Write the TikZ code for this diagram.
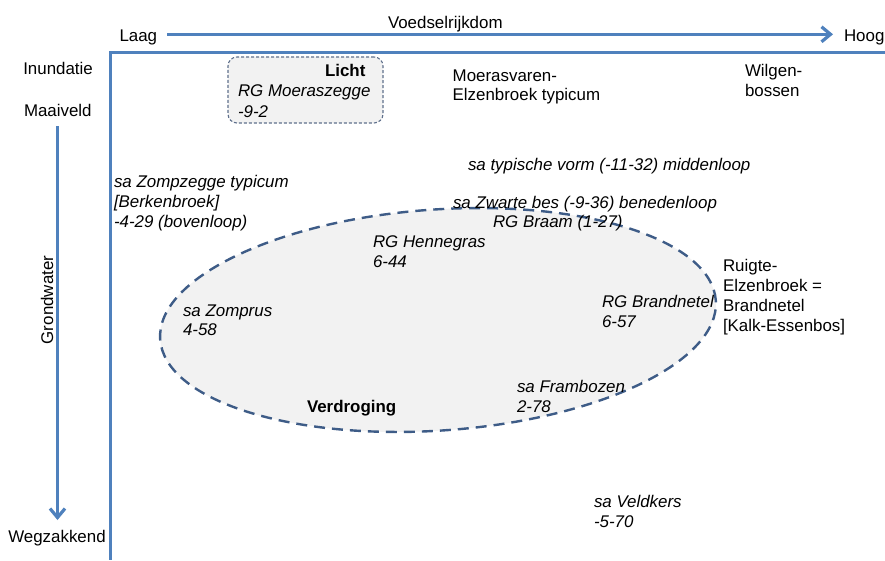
\documentclass[tikz,border=0pt]{standalone}
\usepackage{fontspec}
\setmainfont{Liberation Sans}
\usetikzlibrary{arrows.meta,shapes.geometric}
\definecolor{axisblue}{RGB}{79,129,189}
\definecolor{ovaledge}{RGB}{62,92,135}
\definecolor{boxedge}{RGB}{95,112,140}
\definecolor{ovalfill}{RGB}{242,242,242}
\begin{document}
\begin{tikzpicture}[x=1pt,y=1pt,
  lbl/.style={anchor=north west, inner sep=0pt, outer sep=0pt, align=left, font=\fontsize{16.9}{20}\selectfont},
  ilbl/.style={lbl, font=\fontsize{16.9}{20}\selectfont\itshape},
  blbl/.style={lbl, font=\fontsize{16.9}{20}\selectfont\bfseries},
  axisline/.style={draw=axisblue, line width=3.2pt},
  axisarrow/.style={axisline, -{Straight Barb[length=9pt,width=15pt]}},
]
\useasboundingbox (0,0) rectangle (885,-560);

% axes frame
\coordinate (frameright) at (885,-52.3);
\coordinate (framecorner) at (110.5,-52.3);
\coordinate (framebottom) at (110.5,-560);
\draw[axisline, line join=miter] (frameright) -- (framecorner) -- (framebottom);

% nutrient arrow
\node[lbl] (laag) at (119.5,-29.9) {Laag};
\node[lbl] (hoog) at (844,-29.4) {Hoog};
\node[lbl] (voedsel) at (388,-15.9) {Voedselrijkdom};
\coordinate (topstart) at (167,-34.3);
\coordinate (topend) at (833,-34.3);
\draw[axisarrow] (topstart) -- (topend);

% groundwater arrow
\node[lbl] (inundatie) at (23.3,-61.9) {Inundatie};
\node[lbl] (maaiveld) at (24,-104.4) {Maaiveld};
\node[lbl] (wegzakkend) at (8.3,-529.9) {Wegzakkend};
\coordinate (leftstart) at (57.5,-126);
\coordinate (leftend) at (57.5,-520);
\draw[axisarrow] (leftstart) -- (leftend);
\node[rotate=90, inner sep=0pt, font=\fontsize{16.9}{20}\selectfont] (grondwater) at (47,-300) {Grondwater};

% drought ellipse
\node[ellipse, draw=ovaledge, fill=ovalfill, line width=2.4pt, dash pattern=on 11pt off 7pt,
      minimum width=557pt, minimum height=221pt, inner sep=0pt, rotate=4] (drought) at (438,-320) {};

% light box
\node[draw=boxedge, fill=ovalfill, rounded corners=9pt, line width=1.1pt, dash pattern=on 3pt off 2pt,
      minimum width=155pt, minimum height=66pt, inner sep=0pt] (lichtbox) at (305.5,-90) {};
\node[blbl] (licht) at (325,-63.9) {Licht};
\node[ilbl] (moeraszegge) at (238,-84.6) {RG Moeraszegge};
\node[ilbl] (moeraszeggeval) at (238,-105.9) {-9-2};

% upright labels
\node[lbl, font=\fontsize{16.9}{19.5}\selectfont] (moerasvaren) at (452.7,-69.6) {Moerasvaren-\\Elzenbroek typicum};
\node[lbl] (wilgen) at (745,-64.4) {Wilgen-\\bossen};
\node[lbl] (ruigte) at (723,-258.9) {Ruigte-\\Elzenbroek =\\Brandnetel\\{[Kalk-Essenbos]}};

% italic labels
\node[ilbl] (typisch) at (468,-157.9) {sa typische vorm (-11-32) middenloop};
\node[ilbl] (zompzegge) at (114,-174.9) {sa Zompzegge typicum\\{[Berkenbroek]}\\-4-29 (bovenloop)};
\node[ilbl] (zwartebes) at (453,-195.9) {sa Zwarte bes (-9-36) benedenloop};
\node[ilbl] (braam) at (493,-214.9) {RG Braam (1-27)};
\node[ilbl] (hennegras) at (373,-235.9) {RG Hennegras\\6-44};
\node[ilbl] (brandnetel) at (602,-294.9) {RG Brandnetel\\6-57};
\node[ilbl, font=\fontsize{16.9}{19}\selectfont\itshape] (zomprus) at (183,-304.9) {sa Zomprus\\4-58};
\node[ilbl] (frambozen) at (517,-379.9) {sa Frambozen\\2-78};
\node[ilbl] (veldkers) at (594,-494.9) {sa Veldkers\\-5-70};
\node[blbl] (verdroging) at (307,-399.9) {Verdroging};
\end{tikzpicture}
\end{document}
